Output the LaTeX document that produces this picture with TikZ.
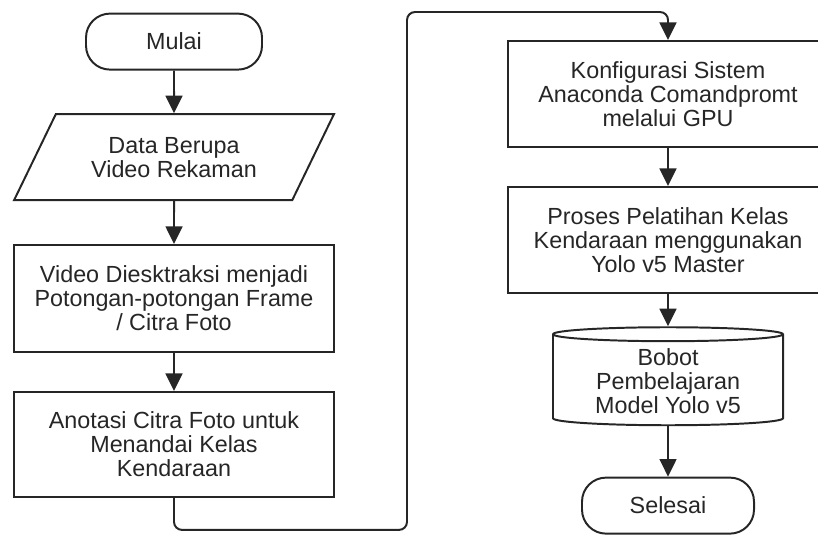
\documentclass[tikz,border=0pt]{standalone}
\usepackage{fontspec}
\setmainfont{Liberation Sans}
\usepackage{tikz}
\usetikzlibrary{arrows.meta, shapes.geometric}

\begin{document}
\begin{tikzpicture}[>={Triangle[length=12.5pt,width=12pt]}, line width=1.4pt, color=black!85,
        font=\fontsize{16.6}{16.9}\selectfont,
        terminal/.style={draw, rounded corners=0.6cm, minimum width=#1, minimum height=1.4cm},
        proses/.style={draw, rectangle, minimum width=8cm, minimum height=#1, align=center},
        data/.style={draw, trapezium, trapezium left angle=58, trapezium right angle=122,
            trapezium stretches=true, minimum width=8cm, minimum height=2.15cm, align=center},
        basisdata/.style={draw, cylinder, shape border rotate=90, aspect=0.09,
            minimum width=5.75cm, minimum height=2.45cm, align=center}]
                \useasboundingbox (0,0) rectangle (20.45,-13.35);

                \node[terminal=4.4cm] (mulai) at (4.35,-1.04) {Mulai};
                \node[data] (video) at (4.35,-3.93) {Data Berupa\\ Video Rekaman};
                \node[proses=2.675cm] (ekstrak) at (4.35,-7.46) {Video Diesktraksi menjadi\\ Potongan-potongan Frame\\ / Citra Foto};
                \node[proses=2.625cm] (anotasi) at (4.35,-11.11) {Anotasi Citra Foto untuk\\ Menandai Kelas\\ Kendaraan};

                \node[proses=2.65cm] (konfig) at (16.7,-2.35) {Konfigurasi Sistem\\ Anaconda Comandpromt\\ melalui GPU};
                \node[proses=2.65cm] (latih) at (16.7,-6.0) {Proses Pelatihan Kelas\\ Kendaraan menggunakan\\ Yolo v5 Master};
                \node[basisdata] (bobot) at (16.7,-9.53) {Bobot\\ Pembelajaran\\ Model Yolo v5};
                \node[terminal=4.3cm] (selesai) at (16.7,-12.64) {Selesai};

                \draw[->] (mulai) -- (video);
                \draw[->] (video) -- (ekstrak);
                \draw[->] (ekstrak) -- (anotasi);
                \draw[->, rounded corners=0.2cm] (anotasi.south) -- ++(0,-0.8) -| (10.175,-0.3) -| (konfig.north);
                \draw[->] (konfig) -- (latih);
                \draw[->] (latih) -- (bobot.north);
                \draw[->] (bobot.south) -- (selesai);
            \end{tikzpicture}
\end{document}
